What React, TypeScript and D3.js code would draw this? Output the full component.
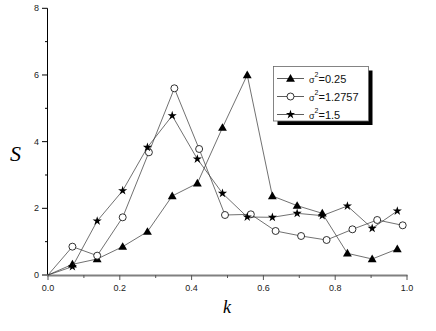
import React from "react";
import * as d3 from "d3";

const kTri = [0, 0.068, 0.137, 0.208, 0.277, 0.346, 0.416, 0.486, 0.555, 0.625, 0.694, 0.764, 0.834, 0.903, 0.973];
const sTri = [0, 0.32, 0.48, 0.85, 1.3, 2.37, 2.75, 4.42, 6.0, 2.37, 2.08, 1.85, 0.65, 0.48, 0.78];
const kCirc = [0, 0.068, 0.137, 0.208, 0.281, 0.352, 0.421, 0.493, 0.565, 0.634, 0.705, 0.776, 0.848, 0.917, 0.988];
const sCirc = [0, 0.85, 0.58, 1.73, 3.68, 5.6, 3.78, 1.8, 1.82, 1.32, 1.17, 1.05, 1.37, 1.65, 1.49];
const kStar = [0, 0.068, 0.137, 0.208, 0.277, 0.346, 0.416, 0.486, 0.555, 0.625, 0.694, 0.764, 0.834, 0.903, 0.973];
const sStar = [0, 0.25, 1.62, 2.53, 3.83, 4.78, 3.48, 2.45, 1.74, 1.73, 1.85, 1.78, 2.07, 1.4, 1.92];

const xTicks = [0, 0.2, 0.4, 0.6, 0.8, 1.0];
const xMinor = [0.1, 0.3, 0.5, 0.7, 0.9];
const yTicks = [0, 2, 4, 6, 8];
const yMinor = [1, 3, 5, 7];
const legendSigma = ["0.25", "1.2757", "1.5"];

const W = 436, H = 331;
const x = d3.scaleLinear().domain([0, 1]).range([48, 407]);
const y = d3.scaleLinear().domain([0, 8]).range([275, 8.3]);

type Kind = "tri" | "circ" | "star";
const triPath = d3.symbol().type(d3.symbolTriangle).size(34)()!;
const starPath = d3.symbol().type(d3.symbolStar).size(26)()!;

function Marker({ kind, cx, cy }: { kind: Kind; cx: number; cy: number }) {
  if (kind === "circ")
    return <circle cx={cx} cy={cy} r={3.5} fill="#fff" stroke="#000" strokeWidth={0.8} />;
  if (kind === "tri")
    return <path d={triPath} transform={`translate(${cx},${cy + 0.6})`} fill="#000" />;
  return <path d={starPath} transform={`translate(${cx},${cy})`} fill="#000" />;
}

const series: { kind: Kind; k: number[]; s: number[] }[] = [
  { kind: "tri", k: kTri, s: sTri },
  { kind: "circ", k: kCirc, s: sCirc },
  { kind: "star", k: kStar, s: sStar },
];

export default function App() {
  const line = d3
    .line<[number, number]>()
    .x((d) => x(d[0]))
    .y((d) => y(d[1]));
  const fmt = d3.format(".1f");
  return (
    <svg width={W} height={H} style={{ position: "absolute", left: 0, top: 0, background: "#fff" }}
      fontFamily="Liberation Sans, Arial, sans-serif">
      <rect width={W} height={H} fill="#fff" />
      <line x1={47.5} x2={47.5} y1={y(8)} y2={y(0)} stroke="#000" strokeWidth={1} />
      {yTicks.map((t) => (
        <g key={t}>
          <line x1={42} x2={47.5} y1={y(t)} y2={y(t)} stroke="#000" strokeWidth={1} />
          <text x={39} y={y(t) + 3} fontSize={9} textAnchor="end" fill="#222">{t}</text>
        </g>
      ))}
      {yMinor.map((t) => (
        <line key={t} x1={45} x2={47.5} y1={y(t)} y2={y(t)} stroke="#000" strokeWidth={1} />
      ))}
      <line x1={47} x2={407.5} y1={275.5} y2={275.5} stroke="#808080" strokeWidth={2.2} />
      {xTicks.map((t) => (
        <g key={t}>
          <line x1={x(t)} x2={x(t)} y1={275} y2={280} stroke="#555" strokeWidth={1} />
          <text x={x(t)} y={291} fontSize={9} textAnchor="middle" fill="#222">{fmt(t)}</text>
        </g>
      ))}
      {xMinor.map((t) => (
        <line key={t} x1={x(t)} x2={x(t)} y1={275} y2={278} stroke="#555" strokeWidth={1} />
      ))}
      <text x={10} y={161} fontSize={22} fontStyle="italic" fontFamily="Liberation Serif, Times New Roman, serif">S</text>
      <text x={223} y={313} fontSize={18} fontStyle="italic" fontFamily="Liberation Serif, Times New Roman, serif">k</text>
      {series.map((se) => (
        <g key={se.kind}>
          <path
            d={line(se.k.map((kk, i) => [kk, se.s[i]] as [number, number]))!}
            fill="none"
            stroke="#333"
            strokeWidth={0.7}
          />
          {se.k.map((kk, i) =>
            i === 0 ? null : <Marker key={i} kind={se.kind} cx={x(kk)} cy={y(se.s[i])} />
          )}
        </g>
      ))}
      <rect x={277.5} y={70.5} width={95} height={54.5} fill="#000" />
      <rect x={273.5} y={66.5} width={95} height={54.5} fill="#fff" stroke="#666" strokeWidth={0.8} />
      {series.map((se, i) => {
        const ly = 78.5 + i * 18;
        return (
          <g key={se.kind}>
            <line x1={277} x2={304} y1={ly} y2={ly} stroke="#333" strokeWidth={0.8} />
            <Marker kind={se.kind} cx={290.5} cy={ly} />
            <text x={309} y={ly + 4} fontSize={11} fill="#111">
              <tspan fontSize={9}>σ</tspan>
              <tspan fontSize={7} dy={-6}>2</tspan>
              <tspan dy={6}>={legendSigma[i]}</tspan>
            </text>
          </g>
        );
      })}
    </svg>
  );
}
